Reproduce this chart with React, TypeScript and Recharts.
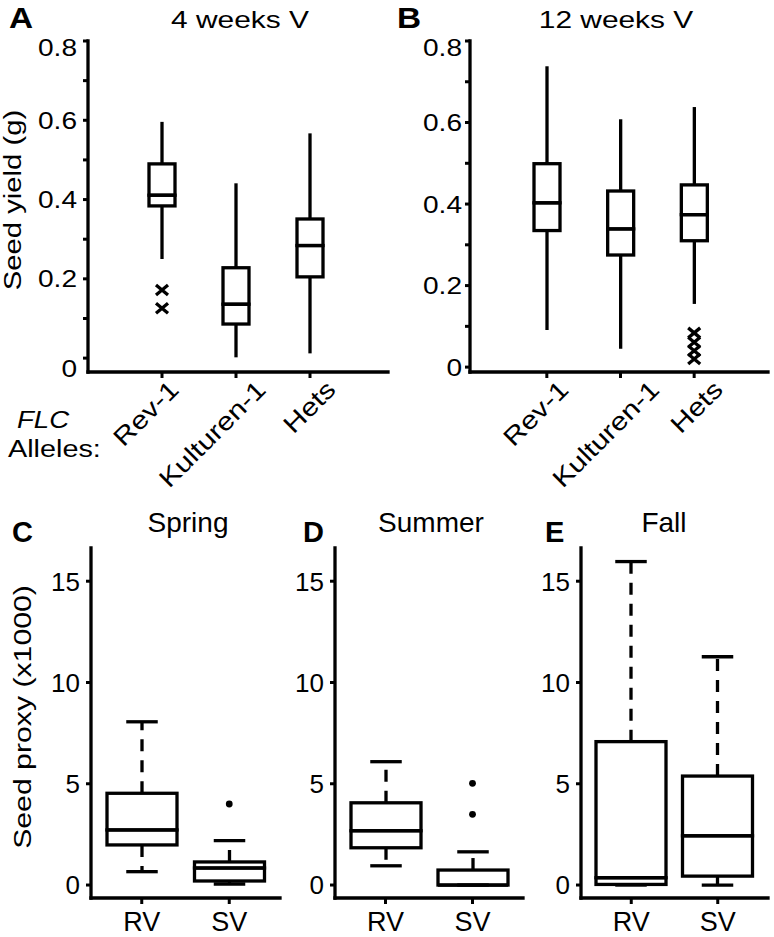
import React from "react";
import { ComposedChart, Bar, Scatter, XAxis, YAxis } from "recharts";

const FONT = "'Liberation Sans', Arial, Helvetica, sans-serif";

// panels A and B: seed yield (g) by FLC allele
const alleles = ["Rev-1", "Kulturen-1", "Hets"];

const aLow = [0.25, 0.002, 0.012];
const aQ1 = [0.384, 0.086, 0.205];
const aMed = [0.411, 0.136, 0.284];
const aQ3 = [0.49, 0.228, 0.351];
const aHigh = [0.596, 0.441, 0.567];
const aOut = [[0.172, 0.126], [], []];

const bLow = [0.091, 0.045, 0.155];
const bQ1 = [0.335, 0.275, 0.31];
const bMed = [0.403, 0.339, 0.374];
const bQ3 = [0.499, 0.432, 0.447];
const bHigh = [0.738, 0.608, 0.638];
const bOut = [[], [], [0.084, 0.061, 0.04, 0.02]];

const yieldTicks = [0, 0.1, 0.2, 0.3, 0.4, 0.5, 0.6, 0.7, 0.8];
const yieldLabels = [0, 0.2, 0.4, 0.6, 0.8];

// panels C, D, E: seed proxy (x1000) by vernalization
const seasons = ["RV", "SV"];

const cLow = [0.66, 0.05];
const cQ1 = [1.98, 0.2];
const cMed = [2.72, 0.84];
const cQ3 = [4.53, 1.14];
const cHigh = [8.06, 2.19];
const cOut = [[], [4.0]];

const dLow = [0.95, 0];
const dQ1 = [1.84, 0];
const dMed = [2.68, 0];
const dQ3 = [4.06, 0.74];
const dHigh = [6.09, 1.64];
const dOut = [[], [5.02, 3.49]];

const eLow = [0, 0];
const eQ1 = [0.03, 0.44];
const eMed = [0.36, 2.43];
const eQ3 = [7.08, 5.38];
const eHigh = [15.97, 11.27];
const eOut = [[], []];

const proxyTicks = [0, 5, 10, 15];

function buildRows(names: string[], low: number[], q1: number[], med: number[], q3: number[], high: number[], out: number[][]) {
  return names.map((name, i) => {
    const row: any = {
      name,
      base: low[i],
      lw: q1[i] - low[i],
      bl: med[i] - q1[i],
      bh: q3[i] - med[i],
      uw: high[i] - q3[i],
    };
    out[i].forEach((v, j) => {
      row[`o${j}`] = v;
    });
    return row;
  });
}

const LW = 3.3;

const boxPart = (part: string, dashed: boolean, cap: number) => (p: any) => {
  const { x, y, width, height } = p;
  if (![x, y, width, height].every((v) => Number.isFinite(v))) return <g />;
  const cx = x + width / 2;
  const ch = (width * cap) / 2;
  const dash = dashed ? "12 9" : undefined;
  if (part === "bl" || part === "bh") {
    if (height < 0.5) {
      return <line x1={x} x2={x + width} y1={y} y2={y} stroke="#000" strokeWidth={LW} />;
    }
    return <rect x={x} y={y} width={width} height={height} fill="none" stroke="#000" strokeWidth={LW} />;
  }
  if (part === "lw") {
    return (
      <g>
        {height > 0 && (
          <line x1={cx} x2={cx} y1={y} y2={y + height} stroke="#000" strokeWidth={LW} strokeDasharray={dash} />
        )}
        {cap > 0 && <line x1={cx - ch} x2={cx + ch} y1={y + height} y2={y + height} stroke="#000" strokeWidth={LW} />}
      </g>
    );
  }
  return (
    <g>
      {height > 0 && (
        <line x1={cx} x2={cx} y1={y + height} y2={y} stroke="#000" strokeWidth={LW} strokeDasharray={dash} />
      )}
      {cap > 0 && <line x1={cx - ch} x2={cx + ch} y1={y} y2={y} stroke="#000" strokeWidth={LW} />}
    </g>
  );
};

const xMark = (p: any) => {
  const { cx, cy } = p;
  if (!Number.isFinite(cx) || !Number.isFinite(cy)) return <g />;
  return (
    <path
      d={`M${cx - 6},${cy - 5}L${cx + 6},${cy + 5}M${cx - 6},${cy + 5}L${cx + 6},${cy - 5}`}
      stroke="#000"
      strokeWidth={3.3}
      fill="none"
    />
  );
};

const dotMark = (p: any) => {
  const { cx, cy } = p;
  if (!Number.isFinite(cx) || !Number.isFinite(cy)) return <g />;
  return <circle cx={cx} cy={cy} r={3.4} fill="#000" />;
};

const frameLine = { stroke: "#000", strokeWidth: LW, strokeLinecap: "square" as const };
const tickStroke = { stroke: "#000", strokeWidth: 3 };

type PanelProps = {
  rows: any[];
  left: number;
  top: number;
  width: number;
  height: number;
  margin: { top: number; right: number; bottom: number; left: number };
  yWidth: number;
  xHeight: number;
  xPad: { left: number; right: number };
  barSize: number;
  domain: [number, number];
  ticks: number[];
  labels: number[];
  tickMargin: number;
  yFont: number;
  yStretch: number;
  nudge: Record<string, number>;
  labelShift: Record<string, number>;
  rotated: boolean;
  dashed: boolean;
  cap: number;
  outShape: (p: any) => any;
  outCount: number;
};

function BoxPanel(pp: PanelProps) {
  const yTick = (p: any) => {
    const v = p.payload.value;
    if (!pp.labels.includes(v)) return <g />;
    const dy = pp.nudge[String(v)] || 0;
    return (
      <g transform={`translate(${p.x},${p.y + dy})`}>
        <text
          transform={`scale(${pp.yStretch},1)`}
          textAnchor="end"
          dy="0.36em"
          fontSize={pp.yFont}
          fontFamily={FONT}
          fill="#000"
        >
          {String(v)}
        </text>
      </g>
    );
  };
  const xTick = (p: any) => {
    const name = p.payload.value;
    if (pp.rotated) {
      const sx = pp.labelShift[name] || 0;
      return (
        <g transform={`translate(${p.x + 9 + sx},${p.y + 7})`}>
          <text
            transform="rotate(-45) scale(1.2,1)"
            textAnchor="end"
            dy="0.35em"
            fontSize={25}
            fontFamily={FONT}
            fill="#000"
          >
            {name}
          </text>
        </g>
      );
    }
    return (
      <text x={p.x} y={p.y + 27} textAnchor="middle" fontSize={27} fontFamily={FONT} fill="#000">
        {name}
      </text>
    );
  };
  const outKeys = Array.from({ length: pp.outCount }, (_, j) => `o${j}`);
  return (
    <div style={{ position: "absolute", left: pp.left, top: pp.top }}>
      <ComposedChart width={pp.width} height={pp.height} data={pp.rows} margin={pp.margin} barSize={pp.barSize}>
        <XAxis
          xAxisId="b"
          dataKey="name"
          type="category"
          height={pp.xHeight}
          padding={pp.xPad}
          axisLine={frameLine}
          tickLine={tickStroke}
          tickSize={6}
          tickMargin={0}
          interval={0}
          tick={xTick}
        />
        <XAxis xAxisId="t" dataKey="name" orientation="top" height={0} axisLine={frameLine} tick={false} tickLine={false} />
        <YAxis
          yAxisId="l"
          type="number"
          domain={pp.domain}
          allowDataOverflow
          ticks={pp.ticks}
          interval={0}
          width={pp.yWidth}
          axisLine={frameLine}
          tickLine={tickStroke}
          tickSize={5}
          tickMargin={pp.tickMargin}
          tick={yTick}
        />
        <YAxis yAxisId="r" orientation="right" width={0} axisLine={frameLine} tick={false} tickLine={false} />
        <Bar xAxisId="b" yAxisId="l" dataKey="base" stackId="s" isAnimationActive={false} shape={() => <g />} />
        <Bar xAxisId="b" yAxisId="l" dataKey="lw" stackId="s" isAnimationActive={false} shape={boxPart("lw", pp.dashed, pp.cap)} />
        <Bar xAxisId="b" yAxisId="l" dataKey="bl" stackId="s" isAnimationActive={false} shape={boxPart("bl", pp.dashed, pp.cap)} />
        <Bar xAxisId="b" yAxisId="l" dataKey="bh" stackId="s" isAnimationActive={false} shape={boxPart("bh", pp.dashed, pp.cap)} />
        <Bar xAxisId="b" yAxisId="l" dataKey="uw" stackId="s" isAnimationActive={false} shape={boxPart("uw", pp.dashed, pp.cap)} />
        {outKeys.map((k) => (
          <Scatter key={k} xAxisId="b" yAxisId="l" dataKey={k} isAnimationActive={false} shape={pp.outShape} />
        ))}
      </ComposedChart>
    </div>
  );
}

const topCommon = {
  top: 0,
  height: 500,
  xHeight: 128,
  barSize: 26,
  ticks: yieldTicks,
  labels: yieldLabels,
  yFont: 24,
  yStretch: 1.17,
  rotated: true,
  dashed: false,
  cap: 0,
  outShape: xMark,
  outCount: 4,
};

const bottomCommon = {
  top: 480,
  height: 457,
  xHeight: 39,
  xPad: { left: 7, right: 7 },
  barSize: 70,
  domain: [-0.64, 16.64] as [number, number],
  ticks: proxyTicks,
  labels: proxyTicks,
  tickMargin: 6,
  yFont: 26,
  yStretch: 1,
  nudge: {},
  labelShift: {},
  rotated: false,
  dashed: true,
  cap: 0.45,
  outShape: dotMark,
  outCount: 2,
};

export default function App() {
  const big = { fontFamily: FONT, fill: "#000" };
  return (
    <div style={{ position: "absolute", left: 0, top: 0, width: 774, height: 937, background: "#fff" }}>
      <BoxPanel
        {...topCommon}
        rows={buildRows(alleles, aLow, aQ1, aMed, aQ3, aHigh, aOut)}
        left={0}
        width={390}
        margin={{ top: 41, right: 2, bottom: 0, left: 0 }}
        yWidth={88}
        xPad={{ left: 37, right: 41 }}
        domain={[-0.035, 0.8]}
        tickMargin={6}
        nudge={{ "0": 10, "0.8": 6 }}
        labelShift={{ "Rev-1": 3, "Kulturen-1": 16, Hets: 12 }}
      />
      <BoxPanel
        {...topCommon}
        rows={buildRows(alleles, bLow, bQ1, bMed, bQ3, bHigh, bOut)}
        left={390}
        width={384}
        margin={{ top: 41, right: 6, bottom: 0, left: 0 }}
        yWidth={80}
        xPad={{ left: 40, right: 37 }}
        domain={[-0.012, 0.8]}
        tickMargin={3}
        nudge={{ "0.8": 6 }}
        labelShift={{ "Rev-1": 8, "Kulturen-1": 25, Hets: 15 }}
      />
      <BoxPanel
        {...bottomCommon}
        rows={buildRows(seasons, cLow, cQ1, cMed, cQ3, cHigh, cOut)}
        left={0}
        width={290}
        margin={{ top: 68, right: 10, bottom: 0, left: 0 }}
        yWidth={91}
      />
      <BoxPanel
        {...bottomCommon}
        rows={buildRows(seasons, dLow, dQ1, dMed, dQ3, dHigh, dOut)}
        left={290}
        width={240}
        margin={{ top: 68, right: 7, bottom: 0, left: 0 }}
        yWidth={45}
      />
      <BoxPanel
        {...bottomCommon}
        rows={buildRows(seasons, eLow, eQ1, eMed, eQ3, eHigh, eOut)}
        left={530}
        width={244}
        margin={{ top: 68, right: 6, bottom: 0, left: 0 }}
        yWidth={51}
      />
      <svg
        width={774}
        height={937}
        style={{ position: "absolute", left: 0, top: 0, pointerEvents: "none" }}
      >
        <text {...big} transform="translate(9,28) scale(1.15,1)" fontSize={29} fontWeight="bold">A</text>
        <text {...big} transform="translate(397,28) scale(1.15,1)" fontSize={29} fontWeight="bold">B</text>
        <text {...big} x={12} y={542} fontSize={29} fontWeight="bold">C</text>
        <text {...big} x={303} y={542} fontSize={29} fontWeight="bold">D</text>
        <text {...big} x={545} y={542} fontSize={29} fontWeight="bold">E</text>

        <text {...big} transform="translate(240,28) scale(1.3,1)" fontSize={23} textAnchor="middle">4 weeks V</text>
        <text {...big} transform="translate(616,28) scale(1.3,1)" fontSize={23} textAnchor="middle">12 weeks V</text>
        <text {...big} x={188} y={532} fontSize={28} textAnchor="middle">Spring</text>
        <text {...big} x={431} y={532} fontSize={28} textAnchor="middle">Summer</text>
        <text {...big} x={664} y={532} fontSize={28} textAnchor="middle">Fall</text>

        <text {...big} transform="translate(21,200) rotate(-90) scale(1.22,1)" fontSize={24} textAnchor="middle">Seed yield (g)</text>
        <text {...big} transform="translate(31,717) rotate(-90) scale(1.26,1)" fontSize={24} textAnchor="middle">Seed proxy (x1000)</text>

        <text {...big} transform="translate(17,428) scale(1.15,1)" fontSize={24} fontStyle="italic">FLC</text>
        <text {...big} transform="translate(8,457) scale(1.2,1)" fontSize={24}>Alleles:</text>
      </svg>
    </div>
  );
}
